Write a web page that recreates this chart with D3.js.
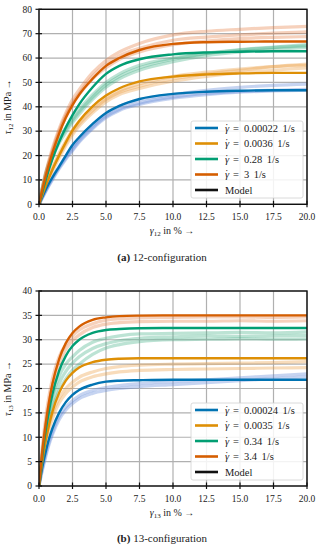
<!DOCTYPE html>
<html>
<head>
<meta charset="utf-8">
<script src="https://cdn.jsdelivr.net/npm/d3@7"></script>
<style>
  body { margin: 0; background: #fff; }
  svg { display: block; }
  text { font-family: "Liberation Serif", "DejaVu Serif", serif; fill: #222; }
</style>
</head>
<body>
<svg id="chart" width="321" height="550"></svg>
<script>
// colours per strain rate (model lines, then the lighter test curves)
var rateColors = ['#0173b2', '#de8f05', '#029e73', '#d55e00'];
var testColors = ['#5d84d6', '#eb9a3c', '#3fae85', '#e67a40'];

// ---- panel (a): 12-configuration ----
var strainA = [0, 0.5, 1, 1.5, 2, 2.5, 3, 4, 5, 6, 7.5, 10, 12.5, 15, 17.5, 20];
var ratesA = ['0.00022', '0.0036', '0.28', '3'];
var modelA = [
  [0, 6, 11, 15.5, 20, 24.3, 27.5, 33, 37.5, 40.4, 43.2, 45.3, 46.2, 46.6, 46.8, 46.8],
  [0, 7.6, 14.2, 20, 25.4, 30.3, 34.2, 40.2, 44.6, 47.6, 50.4, 52.4, 53.3, 53.7, 53.9, 53.9],
  [0, 10, 18.5, 25.5, 31.5, 36.6, 41, 48, 53.5, 56.8, 59.5, 61.5, 62.3, 62.6, 62.8, 62.8],
  [0, 11.5, 21, 29, 35.5, 40.7, 45, 51.5, 56.8, 60, 63.3, 65.8, 66.5, 66.7, 66.8, 66.8]
];
var testsA = [
  [[0, 5.5, 10.5, 15, 19, 22.5, 26, 31.5, 36, 39, 41.5, 44, 45.5, 46.3, 46.8, 47.2],
   [0, 5.8, 11, 15.5, 19.8, 23.5, 27, 32.5, 37, 40.2, 42.8, 45, 46.8, 48, 48.8, 49.3],
   [0, 5.2, 10, 14.5, 18.5, 22, 25.5, 31, 35.5, 38.5, 41, 43.5, 45, 46, 46.5, 46.8]],
  [[0, 8, 14.5, 20, 25, 29.5, 33, 38.5, 43, 46, 48.5, 51.5, 53.5, 55, 56.5, 57.5],
   [0, 8.5, 15, 21, 26, 30.5, 34, 39.5, 43.5, 46.5, 49.5, 52.5, 54.2, 55.5, 56.5, 57],
   [0, 7.5, 13.5, 19, 24, 28.5, 32, 37.5, 42, 45, 47.5, 50.5, 52.5, 54, 55, 56]],
  [[0, 12, 20, 26, 30.5, 34.5, 38, 44, 49, 52.5, 56, 59.5, 61.8, 63.3, 64.3, 65],
   [0, 11, 19, 25, 29.5, 33.5, 37, 43, 48, 51.5, 55, 58.5, 61, 62.5, 63.5, 64.3],
   [0, 13, 21, 27, 31.5, 35.5, 39, 45, 50, 53.5, 57, 60, 62, 63.5, 64.5, 65.5]],
  [[0, 13, 23, 31, 37.5, 43, 47, 54, 59, 62.5, 66, 69.5, 71, 71.8, 72.5, 73],
   [0, 12.5, 22, 30, 36.5, 41.5, 45.5, 52.5, 57.5, 61, 64, 67.3, 68.6, 69.5, 70.2, 70.7],
   [0, 12, 21.5, 29.5, 36, 41, 45, 51.5, 56, 59.5, 62.5, 65.5, 67, 68, 68.5, 68.8]]
];
var yTicksA = [0, 10, 20, 30, 40, 50, 60, 70, 80];

// ---- panel (b): 13-configuration ----
var strainB = [0, 0.25, 0.5, 0.75, 1, 1.5, 2, 2.5, 3, 4, 5, 6, 7.5, 10, 12.5, 15, 17.5, 20];
var ratesB = ['0.00024', '0.0035', '0.34', '3.4'];
var modelB = [
  [0, 3.9, 7.0, 9.7, 11.8, 15.0, 17.2, 18.7, 19.7, 20.8, 21.4, 21.6, 21.7, 21.8, 21.8, 21.8, 21.8, 21.8],
  [0, 5.1, 9.2, 12.5, 15.2, 19.1, 21.6, 23.2, 24.3, 25.4, 25.9, 26.1, 26.2, 26.2, 26.2, 26.2, 26.2, 26.2],
  [0, 6.3, 11.4, 15.5, 18.8, 23.6, 26.7, 28.7, 30.0, 31.4, 32.0, 32.2, 32.35, 32.4, 32.4, 32.4, 32.4, 32.4],
  [0, 7.1, 12.8, 17.3, 20.9, 26.0, 29.3, 31.4, 32.7, 34.1, 34.6, 34.85, 34.95, 35, 35, 35, 35, 35]
];
var testsB = [
  [[0, 3.5, 6.5, 9, 11, 14.2, 16.2, 17.5, 18.5, 19.6, 20.2, 20.6, 21, 21.4, 21.8, 22.2, 22.6, 23],
   [0, 3.2, 6, 8.5, 10.5, 13.6, 15.6, 16.9, 17.9, 19, 19.6, 20, 20.4, 20.8, 21.2, 21.6, 22, 22.4]],
  [[0, 5.5, 9.5, 12.5, 14.8, 18, 20, 21.3, 22.3, 23.4, 24.1, 24.5, 24.8, 25, 25.1, 25.2, 25.3, 25.5],
   [0, 5, 8.5, 11.5, 13.8, 17, 19, 20.3, 21.3, 22.4, 23, 23.4, 23.7, 23.9, 24, 24.1, 24.2, 24.3]],
  [[0, 6.5, 11, 14.5, 17, 21, 23.5, 25.2, 26.5, 28.2, 29.2, 29.8, 30.3, 30.6, 30.8, 30.7, 30.8, 30.9],
   [0, 7, 12, 15.5, 18.5, 22.5, 25, 26.5, 27.8, 29.5, 30.3, 30.8, 31.2, 31.3, 31.4, 31.5, 31.4, 31.6],
   [0, 6, 10.5, 13.5, 16, 19.5, 22, 23.8, 25, 27, 28.3, 29, 29.6, 30, 30.1, 30.2, 30.1, 30.2]],
  [[0, 8, 14, 18.5, 22, 26.5, 29, 30.8, 32, 33.3, 34, 34.3, 34.5, 34.6, 34.7, 34.7, 34.6, 34.7],
   [0, 7, 12.5, 17, 20.5, 25, 28, 29.8, 31, 32.5, 33.2, 33.5, 33.7, 33.8, 33.8, 33.9, 33.8, 33.9]]
];
var yTicksB = [0, 5, 10, 15, 20, 25, 30, 35, 40];

var xTicks = [0, 2.5, 5, 7.5, 10, 12.5, 15, 17.5, 20];

var svg = d3.select('#chart');

function drawPanel(opt){
  var left = 39, right = 307;
  var g = svg.append('g');
  var x = d3.scaleLinear().domain([0, 20]).range([left, right]);
  var y = d3.scaleLinear().domain([0, opt.yMax]).range([opt.bottom, opt.top]);

  // grid
  g.selectAll('.gx').data(xTicks).enter().append('line')
    .attr('x1', d => x(d)).attr('x2', d => x(d))
    .attr('y1', opt.top).attr('y2', opt.bottom)
    .style('stroke', '#b0b0b0').style('stroke-width', 1.2);
  g.selectAll('.gy').data(opt.yTicks).enter().append('line')
    .attr('x1', left).attr('x2', right)
    .attr('y1', d => y(d)).attr('y2', d => y(d))
    .style('stroke', '#b0b0b0').style('stroke-width', 1.2);

  var clipId = 'clip' + opt.id;
  svg.append('clipPath').attr('id', clipId).append('rect')
    .attr('x', left).attr('y', opt.top).attr('width', right - left).attr('height', opt.bottom - opt.top);
  var plot = g.append('g').attr('clip-path', 'url(#' + clipId + ')');

  var line = d3.line()
    .x((d, i) => x(opt.strain[i]))
    .y(d => y(d))
    .curve(d3.curveMonotoneX);

  // experimental curves (light)
  opt.tests.forEach(function(set, k){
    set.forEach(function(vals){
      plot.append('path').datum(vals).attr('d', line)
        .style('fill', 'none').style('stroke', testColors[k])
        .style('stroke-opacity', 0.35).style('stroke-width', 3.2);
    });
  });
  // model curves
  opt.model.forEach(function(vals, k){
    plot.append('path').datum(vals).attr('d', line)
      .style('fill', 'none').style('stroke', rateColors[k])
      .style('stroke-width', 2.4);
  });

  // frame
  g.append('rect').attr('x', left).attr('y', opt.top)
    .attr('width', right - left).attr('height', opt.bottom - opt.top)
    .style('fill', 'none').style('stroke', '#111').style('stroke-width', 1.4);

  // ticks crossing the axis
  g.selectAll('.tx').data(xTicks).enter().append('line')
    .attr('x1', d => x(d)).attr('x2', d => x(d))
    .attr('y1', opt.bottom - 3.5).attr('y2', opt.bottom + 3)
    .style('stroke', '#111').style('stroke-width', 1.2);
  g.selectAll('.ty').data(opt.yTicks).enter().append('line')
    .attr('x1', left - 3.5).attr('x2', left + 3)
    .attr('y1', d => y(d)).attr('y2', d => y(d))
    .style('stroke', '#111').style('stroke-width', 1.2);

  g.selectAll('.lx').data(xTicks).enter().append('text')
    .attr('x', d => x(d)).attr('y', opt.bottom + 15.5)
    .attr('text-anchor', 'middle').style('font-size', '9.5px')
    .text(d => d.toFixed(1));
  g.selectAll('.ly').data(opt.yTicks).enter().append('text')
    .attr('x', left - 7).attr('y', d => y(d) + 3.3)
    .attr('text-anchor', 'end').style('font-size', '9.5px')
    .text(d => d);

  // axis titles
  var xl = g.append('text').attr('x', 172).attr('y', opt.bottom + 30)
    .attr('text-anchor', 'middle').style('font-size', '10px');
  xl.append('tspan').style('font-style', 'italic').text('γ');
  xl.append('tspan').attr('dy', 2).style('font-size', '7px').text(opt.sub);
  xl.append('tspan').attr('dy', -2).text(' in % →');

  var yc = (opt.top + opt.bottom) / 2;
  var yl = g.append('text').attr('transform', 'translate(11,' + yc + ') rotate(-90)')
    .attr('text-anchor', 'middle').style('font-size', '10px');
  yl.append('tspan').style('font-style', 'italic').text('τ');
  yl.append('tspan').attr('dy', 2).style('font-size', '7px').text(opt.sub);
  yl.append('tspan').attr('dy', -2).text(' in MPa →');

  // legend
  var lg = g.append('g');
  lg.append('rect').attr('x', 191).attr('y', opt.legTop)
    .attr('width', 112).attr('height', 77).attr('rx', 2)
    .style('fill', '#fff').style('fill-opacity', 0.85)
    .style('stroke', '#d0d0d0').style('stroke-width', 0.8);
  var items = opt.rates.map((r, k) => ({ label: r, color: rateColors[k] }));
  items.push({ label: null, color: '#111' });
  items.forEach(function(it, i){
    var yy = opt.legTop + 7 + i * 15.5;
    lg.append('line').attr('x1', 195).attr('x2', 218).attr('y1', yy).attr('y2', yy)
      .style('stroke', it.color).style('stroke-width', 2.6);
    var t = lg.append('text').attr('x', 225).attr('y', yy + 3.5).style('font-size', '10.5px');
    if (it.label === null) {
      t.text('Model');
    } else {
      t.append('tspan').style('font-style', 'italic').text('γ');
      t.append('tspan').attr('dx', -4.2).attr('dy', -1).text('\u02d9');
      t.append('tspan').attr('dx', 4.5).attr('dy', 1).text('=');
      t.append('tspan').attr('dx', 5).text(it.label);
      t.append('tspan').attr('dx', 4.5).text('1/s');
    }
  });

  // caption
  var cap = g.append('text').attr('x', 162).attr('y', opt.capY)
    .attr('text-anchor', 'middle').style('font-size', '11px');
  cap.append('tspan').style('font-weight', 'bold').text('(' + opt.letter + ')');
  cap.append('tspan').text(' ' + opt.sub + '-configuration');
}

drawPanel({ id: 'a', top: 9.3, bottom: 204.3, yMax: 80, yTicks: yTicksA,
  strain: strainA, model: modelA, tests: testsA, rates: ratesA,
  sub: '12', letter: 'a', legTop: 121, capY: 261 });
drawPanel({ id: 'b', top: 291, bottom: 486, yMax: 40, yTicks: yTicksB,
  strain: strainB, model: modelB, tests: testsB, rates: ratesB,
  sub: '13', letter: 'b', legTop: 403, capY: 542 });
</script>
</body>
</html>
